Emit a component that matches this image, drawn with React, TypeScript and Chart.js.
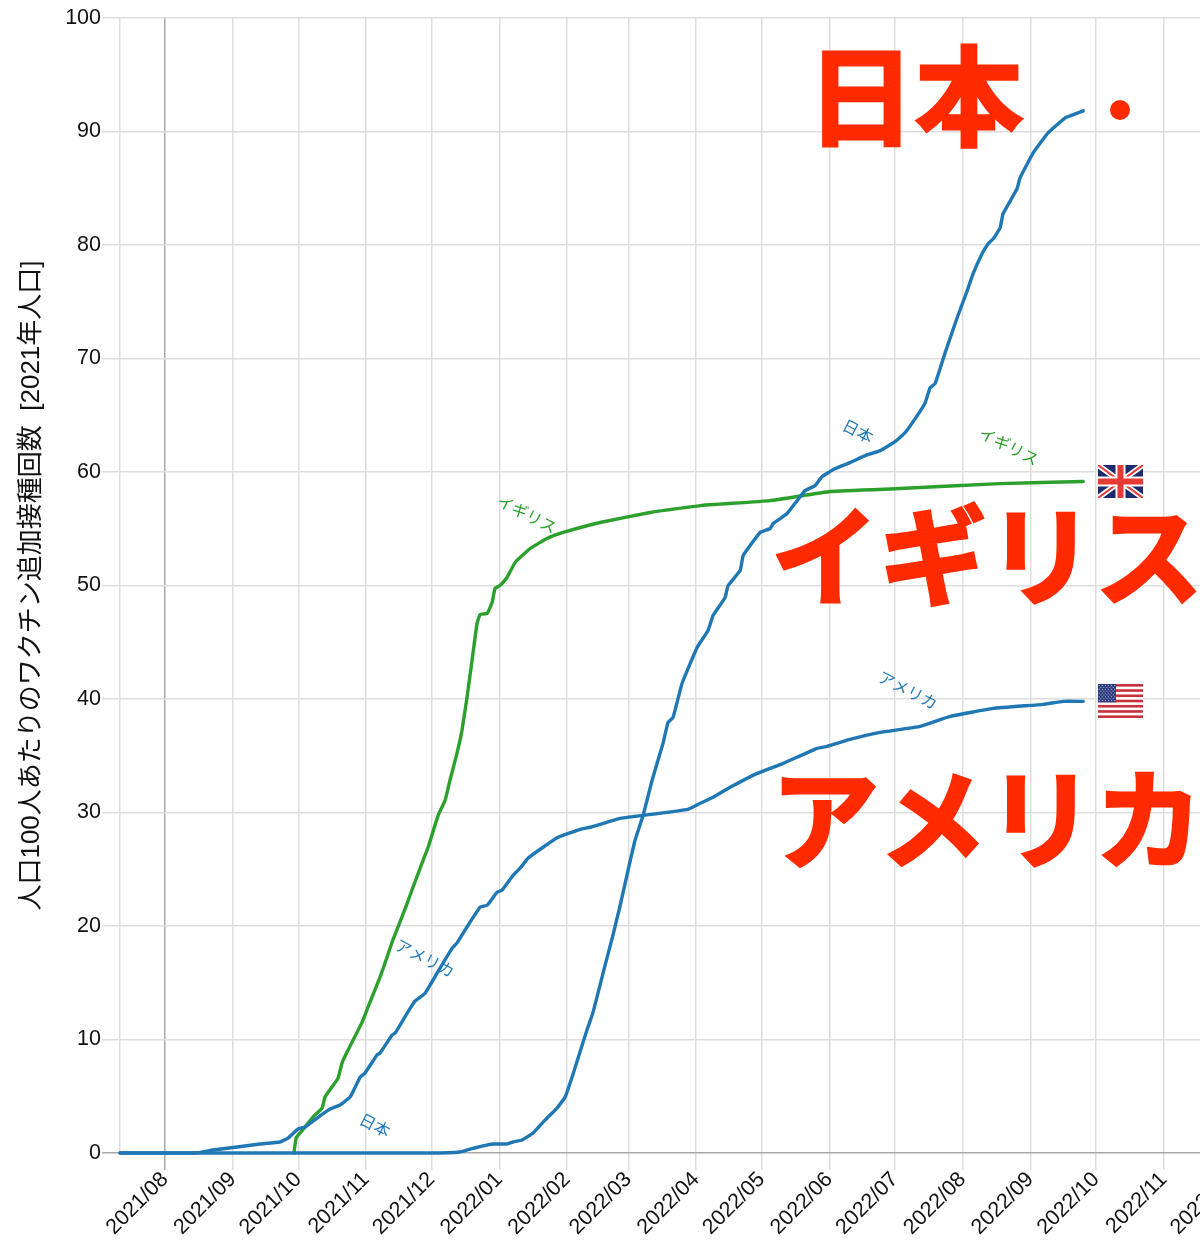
import React, { useEffect, useRef } from "react";
import { Chart, registerables } from "chart.js";

Chart.register(...registerables);

// Days are counted from 2021-08-01.
const monthLabels = ["2021/08","2021/09","2021/10","2021/11","2021/12","2022/01","2022/02","2022/03","2022/04","2022/05","2022/06","2022/07","2022/08","2022/09","2022/10","2022/11","2022/12","2023/01"];
const monthDays = [0,31,61,92,122,153,184,212,243,273,304,334,365,396,426,457,487,518];
const yTicks = [0,10,20,30,40,50,60,70,80,90,100];

const japanDays = [-20.6,121.3,135,139.6,145.5,150.1,156.5,159.3,163.4,168.4,173.9,179.4,183.1,186.3,189.9,193.1,195.9,201.4,205,208.3,211.9,215.1,218.8,222.9,227.9,230.2,232.5,236.6,243.5,248.5,250.8,256.3,257.7,263.2,264.6,272.3,276.9,278.3,284.7,289.3,292.9,297.5,300.7,306.7,313.5,320.4,327.3,334.1,338.7,343.3,347.9,350.1,352.4,357,362.5,367.1,369.8,373.9,376.7,379,382.2,383.5,389.9,391.3,397.3,404.1,411.9,414.2,420.2];
const japanValues = [0,0,0.09,0.35,0.62,0.79,0.79,0.97,1.14,1.76,2.9,3.96,4.93,6.69,8.89,10.83,12.41,16.55,19.19,21.83,24.91,27.55,29.75,32.84,36.09,37.94,38.38,41.37,44.54,46.04,47.36,48.95,50,51.32,52.64,54.67,55.02,55.46,56.34,57.48,58.36,58.8,59.6,60.3,60.83,61.44,61.88,62.68,63.47,64.7,66.11,67.43,67.78,70.5,73.59,75.97,77.47,79.23,80.11,80.55,81.52,82.75,84.95,85.92,88.12,89.88,91.2,91.38,91.82];

const usaDays = [-20.6,14.6,22,33,43.5,52.6,56.3,60.9,64.1,69.6,75.5,80.1,84.7,89.3,91.5,97,98.4,103.9,105.3,110.8,114.4,119,124.5,131.4,133.6,138.7,144.2,147.4,152,154.2,159.3,162.5,166.1,173,179.9,190,194.5,208.3,218.8,239.4,244.9,250.8,258.6,271,282.9,298.4,303,313.5,327.3,345.6,359.3,379,401.9,411,420.2];
const usaValues = [0,0,0.26,0.53,0.79,0.97,1.32,2.11,2.29,3.08,3.87,4.23,4.93,6.69,7.04,8.63,8.8,10.39,10.56,12.32,13.38,14.08,15.85,18.05,18.49,20.07,21.66,21.83,22.98,23.15,24.47,25.09,25.97,26.94,27.82,28.52,28.7,29.49,29.75,30.28,30.81,31.34,32.22,33.45,34.33,35.65,35.83,36.44,37.06,37.59,38.47,39.17,39.53,39.79,39.79];

const ukDays = [59,60,61.8,67.7,71.9,73.2,76.4,79.2,81,83.3,90.2,92.9,98.4,101.6,103.9,106.6,110.8,113.5,118.1,120.4,125,128.2,130.4,133.6,135.9,138.2,140.5,142.8,144.2,147.4,149.7,151,153.3,156.5,160.2,167.1,174.8,182.2,199.1,222,244.9,276.9,304.4,336.4,382.2,420.2];
const ukValues = [0,1.32,1.76,3.17,3.96,4.93,5.81,6.6,7.92,8.89,11.53,12.85,15.49,17.25,18.57,19.89,22,23.42,25.79,26.94,29.75,31.08,32.84,35.21,37.24,40.14,43.4,46.66,47.45,47.54,48.5,49.74,50,50.7,52.03,53.26,54.14,54.67,55.55,56.43,57.04,57.48,58.28,58.54,58.98,59.16];

const toPoints = (days: number[], values: number[]) => days.map((x, i) => ({ x, y: values[i] }));

const BLUE = "#1f77b4";
const GREEN = "#2ca02c";
const RED = "#ff2a00";
const SANS = '"Liberation Sans", "Noto Sans CJK JP", sans-serif';
const CJK = '"Noto Sans CJK JP", sans-serif';
const X_MIN = -20.6;
const X_MAX = 519.4;

const bigLabels = [
  { text: "日本", cx: 915, cy: 96 },
  { text: "イギリス", cx: 987, cy: 556 },
  { text: "アメリカ", cx: 987, cy: 819 },
];
const smallLabels = [
  { text: "日本", cx: 375, cy: 1125, color: BLUE },
  { text: "日本", cx: 858, cy: 431, color: BLUE },
  { text: "イギリス", cx: 527, cy: 514, color: GREEN },
  { text: "イギリス", cx: 1009, cy: 446, color: GREEN },
  { text: "アメリカ", cx: 425, cy: 958, color: BLUE },
  { text: "アメリカ", cx: 908, cy: 690, color: BLUE },
];

function drawUk(ctx: CanvasRenderingContext2D, x: number, y: number, w: number, h: number) {
  ctx.save();
  ctx.beginPath();
  ctx.rect(x, y, w, h);
  ctx.clip();
  ctx.fillStyle = "#1c2a6e";
  ctx.fillRect(x, y, w, h);
  const diag = (color: string, lw: number) => {
    ctx.strokeStyle = color;
    ctx.lineWidth = lw;
    ctx.beginPath();
    ctx.moveTo(x, y);
    ctx.lineTo(x + w, y + h);
    ctx.moveTo(x + w, y);
    ctx.lineTo(x, y + h);
    ctx.stroke();
  };
  diag("#ffffff", 5.5);
  diag("#e63a35", 2);
  ctx.fillStyle = "#ffffff";
  ctx.fillRect(x + w / 2 - 5, y, 10, h);
  ctx.fillRect(x, y + h / 2 - 5, w, 10);
  ctx.fillStyle = "#e63a35";
  ctx.fillRect(x + w / 2 - 3, y, 6, h);
  ctx.fillRect(x, y + h / 2 - 3, w, 6);
  ctx.restore();
}

function drawUs(ctx: CanvasRenderingContext2D, x: number, y: number, w: number, h: number) {
  ctx.save();
  const sh = h / 13;
  ctx.fillStyle = "#ffffff";
  ctx.fillRect(x, y, w, h);
  ctx.fillStyle = "#c8313e";
  for (let i = 0; i < 13; i += 2) ctx.fillRect(x, y + i * sh, w, sh);
  ctx.fillStyle = "#2b3a80";
  const cw = w * 0.4;
  const ch = sh * 7;
  ctx.fillRect(x, y, cw, ch);
  ctx.fillStyle = "#dfe3f2";
  for (let r = 0; r < 9; r++) {
    for (let c = 0; c < 11; c++) {
      if ((r + c) % 2 === 0) ctx.fillRect(x + 0.8 + c * 1.55, y + 1 + r * 1.9, 0.9, 0.9);
    }
  }
  ctx.restore();
}

const overlayPlugin = {
  id: "overlay",
  afterDatasetsDraw(chart: any) {
    const ctx: CanvasRenderingContext2D = chart.ctx;
    ctx.save();
    ctx.textAlign = "center";
    ctx.textBaseline = "middle";
    ctx.fillStyle = RED;
    ctx.strokeStyle = RED;
    ctx.lineWidth = 3;
    ctx.lineJoin = "miter";
    ctx.font = `700 108px ${CJK}`;
    for (const l of bigLabels) {
      ctx.fillText(l.text, l.cx, l.cy);
      ctx.strokeText(l.text, l.cx, l.cy);
    }
    ctx.beginPath();
    ctx.arc(1120, 110, 10, 0, Math.PI * 2);
    ctx.fill();
    ctx.font = `400 16px ${CJK}`;
    for (const l of smallLabels) {
      ctx.save();
      ctx.translate(l.cx, l.cy);
      ctx.rotate((27 * Math.PI) / 180);
      ctx.fillStyle = l.color;
      ctx.fillText(l.text, 0, 0);
      ctx.restore();
    }
    drawUk(ctx, 1098, 465, 45, 33);
    drawUs(ctx, 1098, 684, 45, 34);
    ctx.restore();
  },
};

export default function App() {
  const ref = useRef<HTMLCanvasElement>(null);
  useEffect(() => {
    const chart = new Chart(ref.current!, {
      type: "scatter",
      data: {
        datasets: [
          { label: "日本", data: toPoints(japanDays, japanValues), borderColor: BLUE },
          { label: "アメリカ", data: toPoints(usaDays, usaValues), borderColor: BLUE },
          { label: "イギリス", data: toPoints(ukDays, ukValues), borderColor: GREEN },
        ].map((d) => ({
          ...d,
          showLine: true,
          pointRadius: 0,
          borderWidth: 3.4,
          tension: 0.1,
          borderCapStyle: "round",
          borderJoinStyle: "round",
          clip: false,
          order: 0,
        })) as any,
      },
      options: {
        animation: false,
        responsive: false,
        events: [],
        layout: { padding: { top: 18, right: 0, left: 0, bottom: 0 } },
        plugins: { legend: { display: false }, tooltip: { enabled: false } },
        scales: {
          x: {
            type: "linear",
            min: X_MIN,
            max: X_MAX,
            afterFit: (s: any) => {
              s.height = 88;
              s.paddingLeft = 0;
              s.paddingRight = 0;
            },
            afterBuildTicks: (s: any) => {
              s.ticks = [{ value: X_MIN }, ...monthDays.map((value) => ({ value }))];
            },
            border: { display: false },
            grid: {
              color: (c: any) => (c.tick && c.tick.value === 0 ? "#a8a8a8" : "#dedede"),
              tickColor: (c: any) => (c.tick && c.tick.value === X_MIN ? "rgba(0,0,0,0)" : c.tick && c.tick.value === 0 ? "#a8a8a8" : "#dedede"),
              lineWidth: 1.5,
              tickLength: 17,
            },
            ticks: {
              autoSkip: false,
              maxRotation: 45,
              minRotation: 45,
              padding: -3,
              color: "#111",
              font: { family: SANS, size: 21.5 },
              callback: (v: any) => {
                const i = monthDays.indexOf(Number(v));
                return i >= 0 ? monthLabels[i] : "";
              },
            },
          },
          y: {
            min: 0,
            max: 100,
            afterFit: (s: any) => { s.width = 120; },
            afterBuildTicks: (s: any) => {
              s.ticks = yTicks.map((value) => ({ value }));
            },
            border: { display: false },
            grid: {
              color: (c: any) => (c.tick && c.tick.value === 0 ? "#a8a8a8" : "#dedede"),
              lineWidth: 1.5,
              tickLength: 18,
            },
            ticks: {
              padding: 1,
              color: "#111",
              font: { family: SANS, size: 21.5 },
            },
            title: {
              display: true,
              text: "人口100人あたりのワクチン追加接種回数  [2021年人口]",
              color: "#111",
              font: { family: SANS, size: 26 },
              padding: { top: 16, bottom: 0 },
            },
          },
        },
      },
      plugins: [overlayPlugin],
    } as any);
    return () => chart.destroy();
  }, []);
  return (
    <div style={{ position: "fixed", left: 0, top: 0, width: 1200, height: 1241, overflow: "hidden", background: "#fff" }}>
      <canvas ref={ref} width={1300} height={1241} style={{ display: "block" }} />
    </div>
  );
}
